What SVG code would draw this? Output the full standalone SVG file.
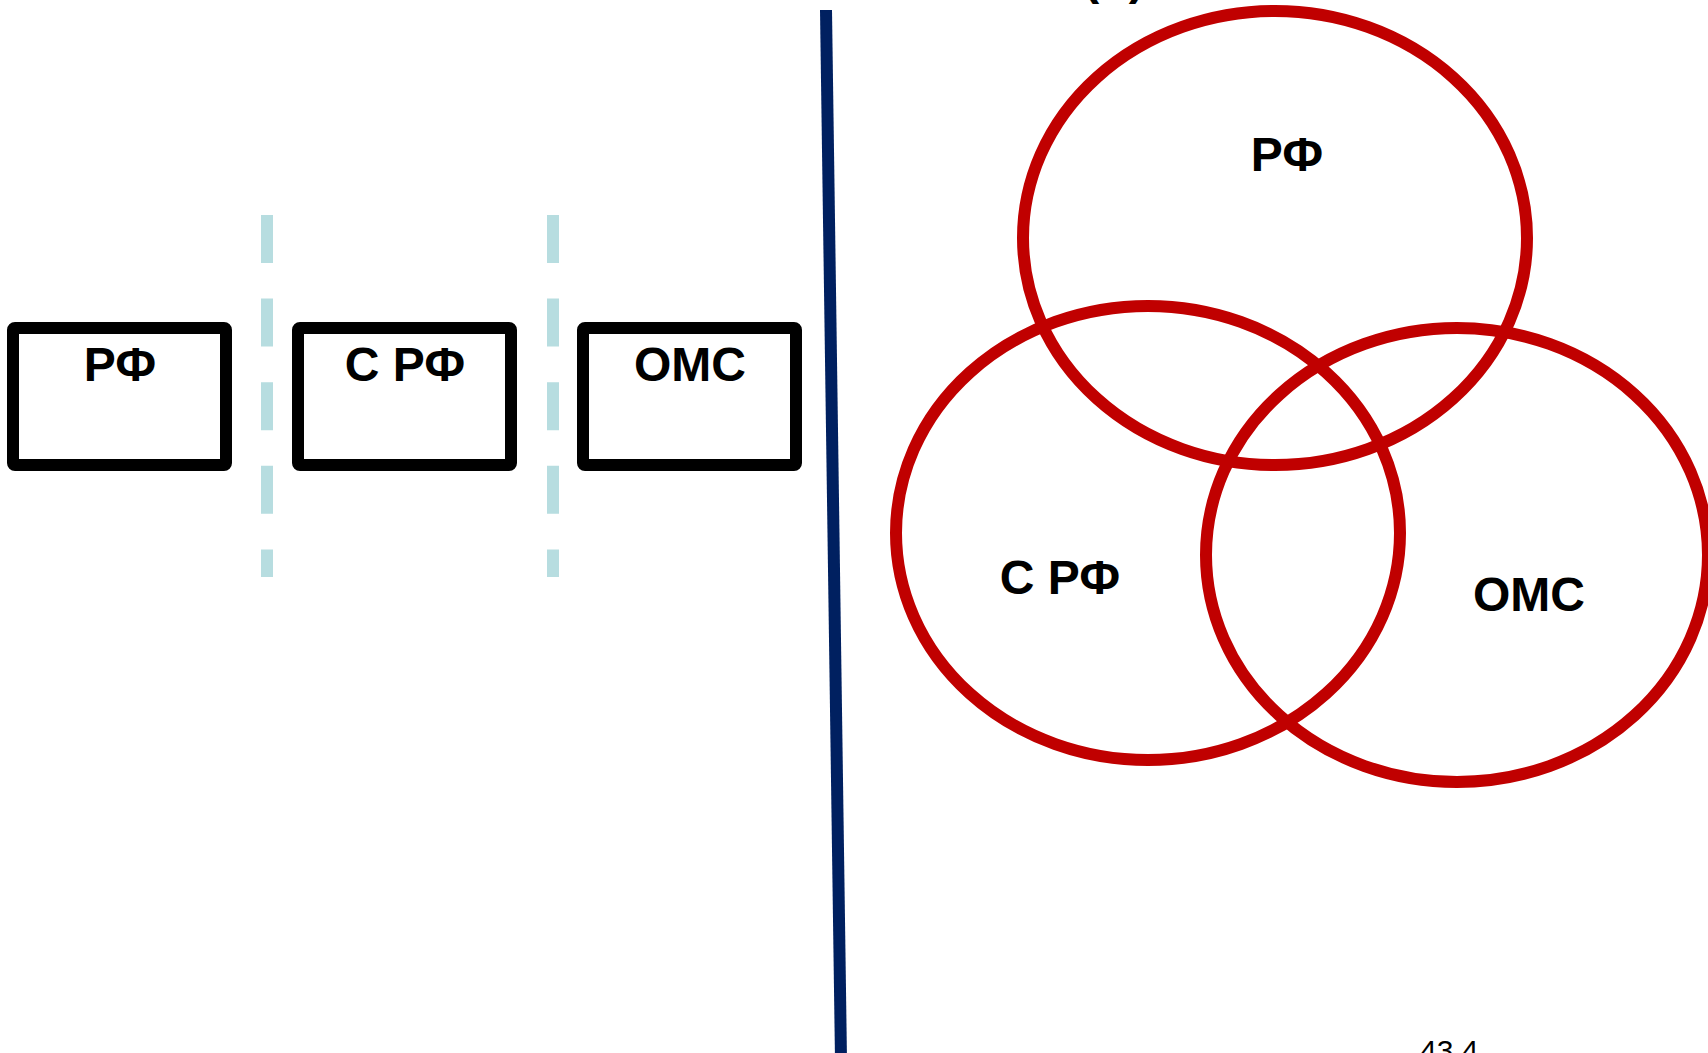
<svg xmlns="http://www.w3.org/2000/svg" width="1708" height="1053" viewBox="0 0 1708 1053">
<style>
.box{fill:#fff;stroke:#000;stroke-width:12;stroke-linejoin:round}
.venn{fill:none;stroke:#C00000;stroke-width:12}
.lbl{font-family:"Liberation Sans",Arial,sans-serif;font-weight:bold;font-size:48px;fill:#000;text-anchor:middle}
.dash{stroke:#B7DDE0;stroke-width:12;stroke-dasharray:48 35.6}
</style>
<rect width="1708" height="1053" fill="#fff"/>
<g id="connectors">
<line class="dash" x1="267" y1="215" x2="267" y2="577"/>
<line class="dash" x1="553" y1="215" x2="553" y2="577"/>
<line x1="826" y1="10" x2="841" y2="1060" stroke="#002060" stroke-width="12"/>
</g>
<g id="box-rf"><rect class="box" x="13" y="328" width="213" height="137" rx="2"/><text class="lbl" x="120" y="381">РФ</text></g>
<g id="box-srf"><rect class="box" x="298" y="328" width="213" height="137" rx="2"/><text class="lbl" x="405" y="381">С РФ</text></g>
<g id="box-oms"><rect class="box" x="583" y="328" width="213" height="137" rx="2"/><text class="lbl" x="690" y="381">ОМС</text></g>
<g id="venn-rf"><ellipse class="venn" cx="1275" cy="238" rx="252" ry="227"/><text class="lbl" x="1287" y="171">РФ</text></g>
<g id="venn-srf"><ellipse class="venn" cx="1148" cy="533" rx="252" ry="227"/><text class="lbl" x="1060" y="594">С РФ</text></g>
<g id="venn-oms"><ellipse class="venn" cx="1457" cy="555" rx="251" ry="227"/><text class="lbl" x="1529" y="611">ОМС</text></g>
<text x="1114" y="-6" class="lbl">(б)</text>
<text x="1420" y="1061" font-family="Liberation Sans,Arial,sans-serif" font-size="30" fill="#000">43.4</text>
</svg>
